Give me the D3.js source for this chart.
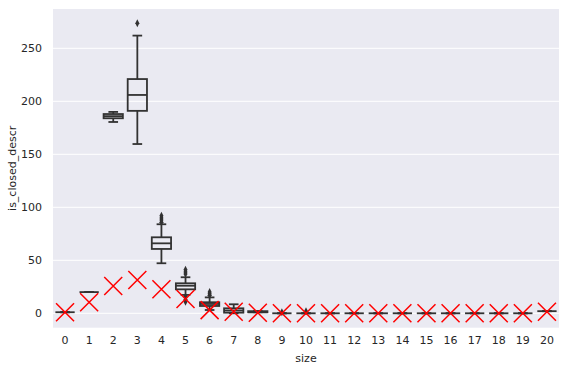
<!DOCTYPE html>
<html><head><meta charset="utf-8">
<script src="https://cdn.jsdelivr.net/npm/d3@7"></script>
<style>body{margin:0;background:#fff;} text{font-family:"DejaVu Sans",sans-serif;}</style>
</head><body><svg id="c" width="565" height="369"></svg>
<script>
const categories = ["0","1","2","3","4","5","6","7","8","9","10","11","12","13","14","15","16","17","18","19","20"];
const whiskerLow  = [1, 20, 180.5, 159.7, 47.2, 17.3, 3.1, 0, 1, 0, 0, 0, 0, 0, 0, 0, 0, 0, 0, 0, 2];
const q1          = [1, 20, 184, 191, 60.7, 22.6, 6.9, 0.6, 1, 0, 0, 0, 0, 0, 0, 0, 0, 0, 0, 0, 2];
const medians     = [1, 20, 186, 206, 66, 26, 8.8, 2.6, 1, 0, 0, 0, 0, 0, 0, 0, 0, 0, 0, 0, 2];
const q3          = [1, 20, 188, 221, 71.7, 28.3, 10.4, 4.7, 2, 0, 0, 0, 0, 0, 0, 0, 0, 0, 0, 0, 2];
const whiskerHigh = [1, 20, 190, 262, 84, 34, 15, 8.5, 2, 0, 0, 0, 0, 0, 0, 0, 0, 0, 0, 0, 2];
const outliers    = [[], [], [], [273.6], [86, 88, 90, 92], [11, 13, 15.5, 37, 39, 41], [17, 18.5, 20], [], [], [1], [2], [], [], [], [], [], [], [], [], [], []];
const redMarks    = [1, 10.4, 25.8, 31.4, 22.6, 13.5, 3, 1.5, 0.5, 0, 0, 0, 0, 0, 0, 0, 0, 0, 0, 0, 1.5];
const yTicks = [0, 50, 100, 150, 200, 250];

const svg = d3.select("#c");
const L = 53, R = 559, T = 9, B = 327.7;
const x = d3.scaleBand().domain(categories).range([L, R]).padding(0);
const y = d3.scaleLinear().domain([-13.6, 287.1]).range([B, T]);

svg.append("rect").attr("x", L).attr("y", T).attr("width", R - L).attr("height", B - T).attr("fill", "#eaeaf2");
svg.append("g").selectAll("line").data(yTicks).join("line")
  .attr("x1", L).attr("x2", R).attr("y1", d => y(d)).attr("y2", d => y(d))
  .attr("stroke", "#fff").attr("stroke-width", 1);

const yAxis = svg.append("g").attr("transform", `translate(${L},0)`).call(d3.axisLeft(y).tickValues(yTicks).tickSize(0).tickPadding(11));
yAxis.select(".domain").remove();
yAxis.selectAll("text").attr("font-size", 11).attr("fill", "#262626").style("font-family", "DejaVu Sans");
const xAxis = svg.append("g").attr("transform", `translate(0,${B})`).call(d3.axisBottom(x).tickSize(0).tickPadding(9));
xAxis.select(".domain").remove();
xAxis.selectAll("text").attr("font-size", 11).attr("fill", "#262626").style("font-family", "DejaVu Sans");

svg.append("text").attr("x", (L + R) / 2).attr("y", 362).attr("text-anchor", "middle")
  .attr("font-size", 11).attr("fill", "#262626").text("size");
svg.append("text").attr("transform", `translate(16,${(T + B) / 2}) rotate(-90)`).attr("text-anchor", "middle")
  .attr("font-size", 11).attr("fill", "#262626").text("is_closed_descr");

const col = "#323232";
const bw = x.bandwidth() * 0.8;
const g = svg.append("g");
categories.forEach((c, i) => {
  const cx = x(c) + x.bandwidth() / 2;
  const gg = g.append("g").attr("stroke", col).attr("stroke-width", 1.8).attr("fill", "none");
  // whiskers
  gg.append("line").attr("x1", cx).attr("x2", cx).attr("y1", y(q3[i])).attr("y2", y(whiskerHigh[i]));
  gg.append("line").attr("x1", cx).attr("x2", cx).attr("y1", y(q1[i])).attr("y2", y(whiskerLow[i]));
  gg.append("line").attr("x1", cx - bw / 4).attr("x2", cx + bw / 4).attr("y1", y(whiskerHigh[i])).attr("y2", y(whiskerHigh[i]));
  gg.append("line").attr("x1", cx - bw / 4).attr("x2", cx + bw / 4).attr("y1", y(whiskerLow[i])).attr("y2", y(whiskerLow[i]));
  gg.append("rect").attr("x", cx - bw / 2).attr("width", bw)
    .attr("y", y(q3[i])).attr("height", Math.max(0, y(q1[i]) - y(q3[i])));
  gg.append("line").attr("x1", cx - bw / 2).attr("x2", cx + bw / 2).attr("y1", y(medians[i])).attr("y2", y(medians[i]));
  gg.selectAll("path.o").data(outliers[i]).join("path").attr("class", "o")
    .attr("d", d => `M${cx},${y(d) - 4}L${cx + 2},${y(d)}L${cx},${y(d) + 4}L${cx - 2},${y(d)}Z`)
    .attr("fill", col).attr("stroke", "none");
});

const mk = svg.append("g").attr("stroke", "#ff0000").attr("stroke-width", 1.5).attr("fill", "none");
categories.forEach((c, i) => {
  const cx = x(c) + x.bandwidth() / 2, cy = y(redMarks[i]), s = 9;
  mk.append("path").attr("d", `M${cx - s},${cy - s}L${cx + s},${cy + s}M${cx - s},${cy + s}L${cx + s},${cy - s}`);
});
</script></body></html>
